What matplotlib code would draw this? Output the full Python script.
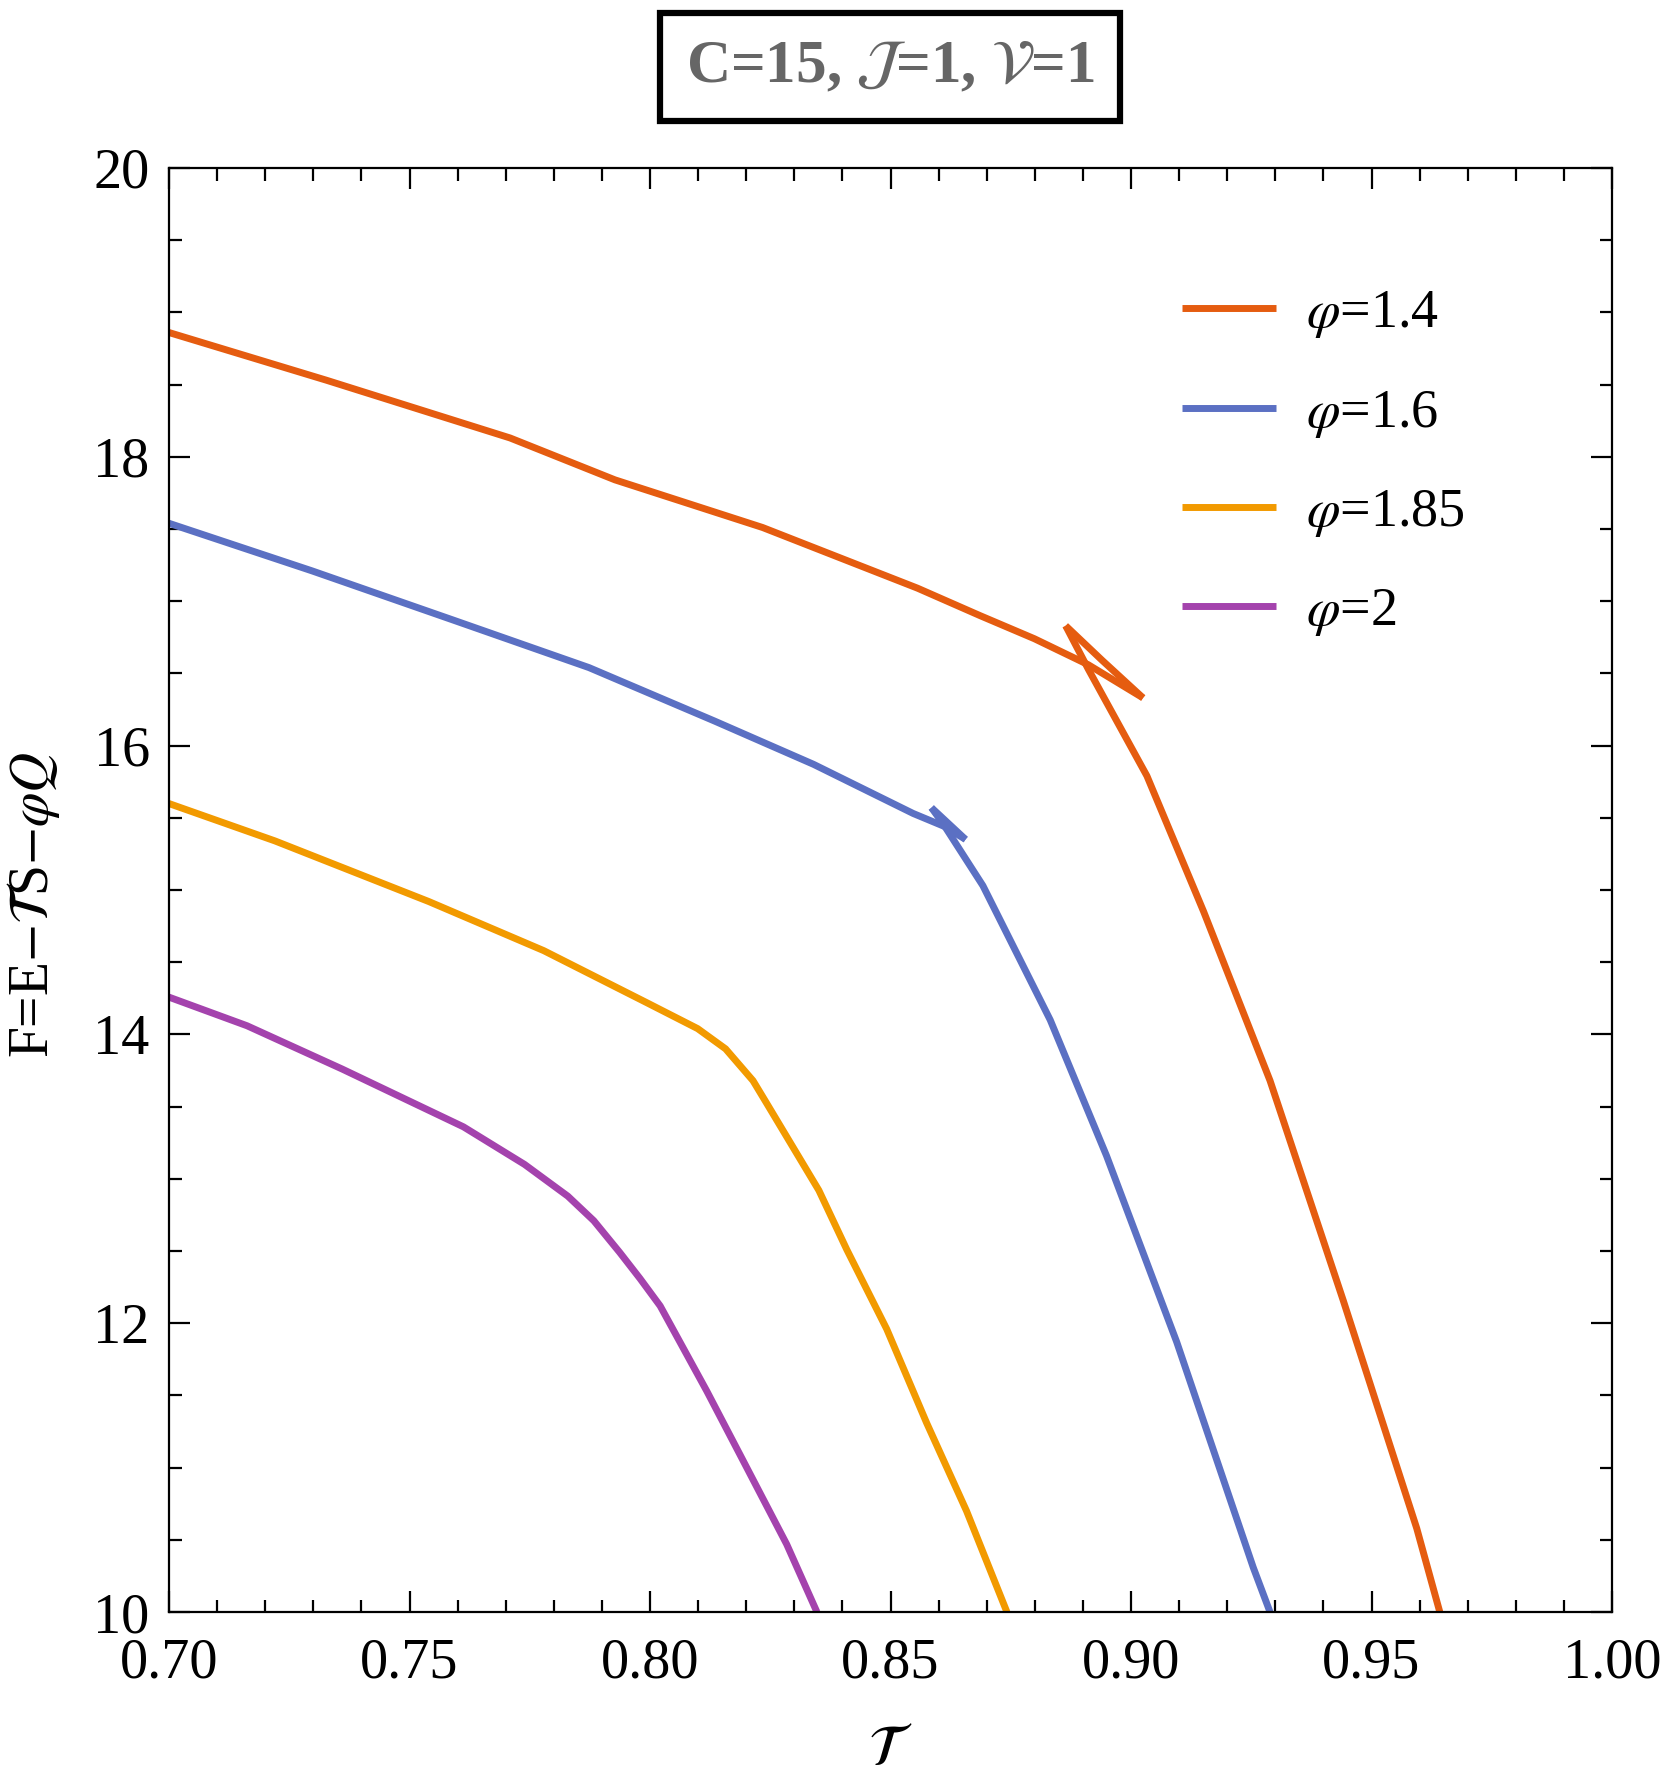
import matplotlib
matplotlib.use('Agg')
import matplotlib.pyplot as plt
from matplotlib.ticker import MultipleLocator, FormatStrFormatter

plt.rcParams['font.family'] = ['Liberation Serif', 'DejaVu Serif']
plt.rcParams['mathtext.fontset'] = 'stix'

# phi = 1.4 : small branch, intermediate branch, large branch (swallowtail)
t_14_a = [0.699, 0.7327, 0.7709, 0.7927, 0.8234, 0.8556, 0.8686, 0.8799, 0.8911, 0.9025]
f_14_a = [18.87, 18.53, 18.13, 17.84, 17.51, 17.09, 16.90, 16.74, 16.56, 16.33]
t_14_b = [0.9025, 0.8940, 0.8864]
f_14_b = [16.33, 16.59, 16.83]
t_14_c = [0.8864, 0.8911, 0.9033, 0.9151, 0.9289, 0.9441, 0.9594, 0.9642]
f_14_c = [16.83, 16.53, 15.79, 14.85, 13.68, 12.16, 10.58, 10.0]

# phi = 1.6
t_16_a = [0.699, 0.7297, 0.7590, 0.7873, 0.8134, 0.8340, 0.8547, 0.8612, 0.8656]
f_16_a = [17.55, 17.21, 16.87, 16.54, 16.17, 15.87, 15.53, 15.44, 15.35]
t_16_b = [0.8656, 0.8585]
f_16_b = [15.35, 15.57]
t_16_c = [0.8585, 0.8609, 0.8692, 0.8832, 0.8949, 0.9095, 0.9254, 0.9289]
f_16_c = [15.57, 15.46, 15.03, 14.10, 13.16, 11.87, 10.31, 10.0]

# phi = 1.85
t_185 = [0.699, 0.7220, 0.7540, 0.7779, 0.7993, 0.8099, 0.8157, 0.8214, 0.8243, 0.8351,
         0.8409, 0.8492, 0.8575, 0.8658, 0.8742]
f_185 = [15.61, 15.34, 14.92, 14.58, 14.22, 14.04, 13.90, 13.68, 13.52, 12.92,
         12.51, 11.96, 11.31, 10.70, 10.0]

# phi = 2
t_2 = [0.699, 0.7162, 0.7360, 0.7486, 0.7612, 0.7739, 0.7829, 0.7883, 0.7937, 0.7979,
       0.8021, 0.8118, 0.8187, 0.8284, 0.8347]
f_2 = [14.27, 14.06, 13.76, 13.56, 13.36, 13.10, 12.88, 12.71, 12.49, 12.31,
       12.12, 11.53, 11.09, 10.47, 10.0]

labels = [r'$\varphi$=1.4', r'$\varphi$=1.6', r'$\varphi$=1.85', r'$\varphi$=2']
colors = ['#E55C10', '#5B70C3', '#F29A00', '#A443AD']

series = [
    [(t_14_a, f_14_a), (t_14_b, f_14_b), (t_14_c, f_14_c)],
    [(t_16_a, f_16_a), (t_16_b, f_16_b), (t_16_c, f_16_c)],
    [(t_185, f_185)],
    [(t_2, f_2)],
]

fig = plt.figure(figsize=(16.61, 17.92), dpi=100)
ax = fig.add_axes([0.1018, 0.1004, 0.8687, 0.8059])

for branches, lab, c in zip(series, labels, colors):
    for i, (t, f) in enumerate(branches):
        ax.plot(t, f, color=c, lw=5, label=lab if i == 0 else None,
                solid_capstyle='butt', solid_joinstyle='round')

ax.set_xlim(0.70, 1.00)
ax.set_ylim(10, 20)
ax.xaxis.set_major_locator(MultipleLocator(0.05))
ax.xaxis.set_minor_locator(MultipleLocator(0.01))
ax.yaxis.set_major_locator(MultipleLocator(2))
ax.yaxis.set_minor_locator(MultipleLocator(0.5))
ax.xaxis.set_major_formatter(FormatStrFormatter('%.2f'))
ax.tick_params(which='both', direction='in', top=True, right=True, width=1.6)
ax.tick_params(which='major', length=15, labelsize=40.5)
ax.tick_params(axis='x', which='major', pad=18)
ax.tick_params(axis='y', which='major', pad=14)
ax.tick_params(which='minor', length=9)
for s in ax.spines.values():
    s.set_linewidth(1.6)

ax.set_xlabel(r'$\mathcal{T}$', fontsize=42)
ax.xaxis.set_label_coords(0.5, -0.078)
ax.set_ylabel(r'F=E$-\mathcal{T}$S$-\varphi Q$', fontsize=40)
ax.yaxis.set_label_coords(-0.074, 0.49)

leg = ax.legend(loc='upper left', bbox_to_anchor=(0.668, 0.95), frameon=False,
                fontsize=39, handlelength=1.75, handletextpad=0.55, labelspacing=0.88)

fig.text(0.536, 0.9626, r'C=15, $\mathcal{J}$=1, $\mathcal{V}$=1', fontsize=44,
         fontweight='bold', color='#666666', ha='center', va='center',
         bbox=dict(boxstyle='square,pad=0.42', fc='white', ec='black', lw=4.5))

fig.savefig('out.png', dpi=100)
